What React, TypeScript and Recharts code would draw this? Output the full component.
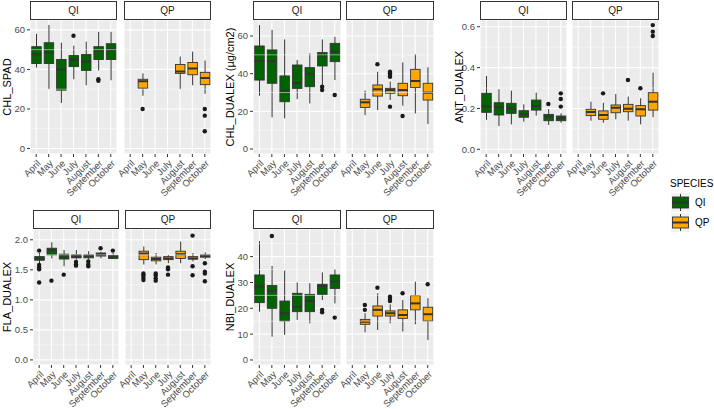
import React from 'react';
import {
  ComposedChart,
  Bar,
  Scatter,
  XAxis,
  YAxis,
  CartesianGrid,
  ReferenceLine,
} from 'recharts';

type Box = [number, number, number, number, number] | null;
type Out = [string, number][];

// box stats are [lower whisker, q1, median, q3, upper whisker]
const months = ['April', 'May', 'June', 'July', 'August', 'September', 'October'];

const chlSpadQI: Box[] = [
  [41, 43, 47.5, 51.5, 58],
  [30, 43, 48.5, 53.5, 62.5],
  [23, 29.5, 40, 45, 53.5],
  [35, 41.5, 45, 47, 52],
  [32, 39.5, 44, 47.5, 54],
  [39.5, 45, 49.5, 51.5, 59],
  [34.5, 45, 50, 53, 59],
];
const chlSpadQIOut: Out = [['July', 57], ['September', 35], ['September', 34.2]];
const chlSpadQP: Box[] = [
  null,
  [26.7, 30.5, 34, 35, 38],
  null,
  null,
  [30, 38, 39, 42.5, 46.5],
  [32, 37.3, 40.5, 43.5, 49],
  [27.7, 32.3, 35.6, 38.5, 44.5],
];
const chlSpadQPOut: Out = [['May', 20], ['October', 20], ['October', 16.6], ['October', 8.7]];

const chlDualexQI: Box[] = [
  [28.3, 36.6, 46.7, 54.7, 65.8],
  [16.8, 34.9, 46.7, 52.6, 63.2],
  [16.3, 25.1, 31, 38.8, 58.2],
  [26.5, 32.2, 35, 44.6, 47.3],
  [24.2, 33.1, 39.8, 43.2, 50.8],
  [34, 44.1, 49.6, 51.2, 58.2],
  [36.6, 46.4, 51.7, 56.1, 59.6],
];
const chlDualexQIOut: Out = [['September', 33.1], ['September', 31.3], ['October', 28.7]];
const chlDualexQP: Box[] = [
  null,
  [18, 22.1, 24.8, 26.4, 31],
  [20.7, 28.1, 31.7, 34, 41],
  [26, 29.6, 31.3, 32.2, 35.8],
  [23, 28.3, 31.3, 34.9, 46],
  [18.9, 32.7, 36.1, 42.3, 50.3],
  [13.3, 26, 29.9, 34.9, 43.4],
];
const chlDualexQPOut: Out = [
  ['June', 45], ['July', 41], ['July', 40.2], ['July', 39.3], ['July', 38.4], ['July', 22.5], ['August', 17.5],
];

const antQI: Box[] = [
  [0.144, 0.181, 0.209, 0.274, 0.359],
  [0.114, 0.168, 0.206, 0.228, 0.294],
  [0.122, 0.176, 0.2, 0.225, 0.287],
  [0.135, 0.157, 0.173, 0.189, 0.22],
  [0.165, 0.192, 0.212, 0.241, 0.277],
  [0.119, 0.14, 0.16, 0.171, 0.196],
  [0.13, 0.14, 0.152, 0.163, 0.176],
];
const antQIOut: Out = [['September', 0.222], ['October', 0.274], ['October', 0.246], ['October', 0.209]];
const antQP: Box[] = [
  null,
  [0.14, 0.165, 0.183, 0.196, 0.233],
  [0.13, 0.147, 0.168, 0.188, 0.228],
  [0.147, 0.179, 0.204, 0.217, 0.271],
  [0.14, 0.184, 0.199, 0.22, 0.258],
  [0.122, 0.163, 0.196, 0.214, 0.25],
  [0.157, 0.192, 0.233, 0.277, 0.375],
];
const antQPOut: Out = [
  ['June', 0.274], ['August', 0.339], ['September', 0.299], ['October', 0.608], ['October', 0.576], ['October', 0.555],
];

const flaQI: Box[] = [
  [1.61, 1.66, 1.69, 1.72, 1.78],
  [1.69, 1.75, 1.83, 1.86, 1.96],
  [1.56, 1.68, 1.72, 1.76, 1.83],
  [1.67, 1.7, 1.72, 1.75, 1.83],
  [1.67, 1.7, 1.73, 1.75, 1.81],
  [1.69, 1.73, 1.76, 1.78, 1.8],
  [1.68, 1.69, 1.72, 1.74, 1.78],
];
const flaQIOut: Out = [
  ['April', 1.82], ['April', 1.58], ['April', 1.54], ['April', 1.51], ['April', 1.29], ['May', 1.32], ['June', 1.42],
  ['July', 1.63], ['July', 1.59], ['July', 1.57], ['August', 1.64], ['August', 1.59], ['August', 1.56],
  ['September', 1.86], ['October', 1.82],
];
const flaQP: Box[] = [
  null,
  [1.59, 1.67, 1.77, 1.81, 1.89],
  [1.59, 1.65, 1.68, 1.71, 1.78],
  [1.61, 1.67, 1.69, 1.72, 1.75],
  [1.61, 1.69, 1.76, 1.81, 1.97],
  [1.64, 1.68, 1.69, 1.72, 1.78],
  [1.68, 1.71, 1.73, 1.75, 1.79],
];
const flaQPOut: Out = [
  ['May', 1.44], ['May', 1.41], ['May', 1.37], ['May', 1.33], ['June', 1.44], ['June', 1.41], ['June', 1.36], ['June', 1.32],
  ['July', 1.54], ['July', 1.51], ['July', 1.42], ['September', 2.07], ['September', 1.56], ['September', 1.41],
  ['October', 1.61], ['October', 1.47], ['October', 1.44], ['October', 1.31],
];

const nbiQI: Box[] = [
  [18.7, 22.2, 28.4, 32.9, 46],
  [9, 20, 26.7, 28.8, 36.4],
  [9.7, 15.1, 18.1, 22.8, 34.6],
  [15.5, 18.7, 20.6, 25.8, 30],
  [14.2, 18.7, 22.8, 25.4, 29.7],
  [23.2, 25.4, 28.6, 29.3, 33.9],
  [21.9, 27.7, 30.3, 32.9, 35.2],
];
const nbiQIOut: Out = [['May', 48], ['September', 19.4], ['September', 18.5], ['October', 16.4]];
const nbiQP: Box[] = [
  null,
  [10.7, 13.8, 14.8, 15.7, 18.1],
  [11.6, 17, 19.4, 20.9, 25.8],
  [14.2, 17, 18.1, 19, 21.5],
  [11, 16.1, 17.4, 19.4, 23.2],
  [13.8, 19.4, 21.9, 24.9, 30.3],
  [7.7, 15.1, 17.7, 20.4, 23.9],
];
const nbiQPOut: Out = [
  ['May', 21.3], ['May', 19.4], ['June', 28], ['July', 24.5], ['July', 23.6], ['July', 22.8], ['August', 25.8], ['October', 29.3],
];

const QI_FILL = '#006400';
const QP_FILL = '#FFA500';
const FONT = '"Liberation Sans", Arial, sans-serif';
const BOX_W = 9.5;
const PAD = 30; // room left of every plot area for tick labels

const BoxShape = (p: any) => {
  const b: Box = p.payload?.box;
  if (!b || !isFinite(p.y) || !isFinite(p.height)) return null;
  const top = Math.min(p.y, p.y + p.height);
  const bot = Math.max(p.y, p.y + p.height);
  const px = (v: number) => bot - ((v - b[0]) / (b[4] - b[0])) * (bot - top);
  const cx = p.x + p.width / 2;
  const x0 = cx - BOX_W / 2;
  return (
    <g>
      <line x1={cx} x2={cx} y1={px(b[4])} y2={px(b[3])} stroke="#333" strokeWidth={1} />
      <line x1={cx} x2={cx} y1={px(b[1])} y2={px(b[0])} stroke="#333" strokeWidth={1} />
      <rect x={x0} y={px(b[3])} width={BOX_W} height={px(b[1]) - px(b[3])} fill={p.boxFill} stroke="#333" strokeWidth={0.9} />
      <line x1={x0} x2={x0 + BOX_W} y1={px(b[2])} y2={px(b[2])} stroke="#333" strokeWidth={2} />
    </g>
  );
};

const MonthTick = (p: any) => {
  const x = p.x + 5;
  const y = p.y + 5;
  return (
    <text x={x} y={y} transform={`rotate(-45 ${x} ${y})`} textAnchor="end" fontSize={9.5} fill="#4D4D4D" fontFamily={FONT}>
      {p.payload.value}
    </text>
  );
};

interface PanelProps {
  stats: Box[];
  outliers: Out;
  fill: string;
  left: number;
  top: number;
  width: number;
  height: number;
  domain: [number, number];
  ticks: number[];
  minor: number[];
  showY: boolean;
  digits: number;
}

const Panel = ({ stats, outliers, fill, left, top, width, height, domain, ticks, minor, showY, digits }: PanelProps) => {
  const data = months.map((m, i) => ({
    month: m,
    box: stats[i],
    range: stats[i] ? [stats[i]![0], stats[i]![4]] : null,
  }));
  const pts = outliers.map(([m, v]) => ({ month: m, v }));
  return (
    <div style={{ position: 'absolute', left: left - PAD, top }}>
      <ComposedChart
        width={width + PAD}
        height={height + 55}
        data={data}
        margin={{ top: 0, right: 0, bottom: 0, left: showY ? 0 : PAD }}
      >
        <CartesianGrid fill="#EBEBEB" stroke="#FFFFFF" strokeWidth={1.1} />
        {minor.map((v) => (
          <ReferenceLine key={v} y={v} stroke="#FFFFFF" strokeWidth={0.5} />
        ))}
        <XAxis
          dataKey="month"
          allowDuplicatedCategory={false}
          height={55}
          axisLine={false}
          tickSize={3}
          tickLine={{ stroke: '#333' }}
          tick={<MonthTick />}
          interval={0}
        />
        <YAxis
          type="number"
          domain={domain}
          ticks={ticks}
          allowDataOverflow
          hide={!showY}
          width={PAD}
          axisLine={false}
          tickSize={3}
          tickLine={{ stroke: '#333' }}
          tick={{ fontSize: 9.5, fill: '#4D4D4D', fontFamily: FONT }}
          tickFormatter={(v: number) => v.toFixed(digits)}
          interval={0}
        />
        <Bar dataKey="range" barSize={9} isAnimationActive={false} shape={(p: any) => <BoxShape {...p} boxFill={fill} />} />
        <Scatter
          data={pts}
          dataKey="v"
          isAnimationActive={false}
          shape={(p: any) => <circle cx={p.cx} cy={p.cy} r={2.2} fill="#1A1A1A" />}
        />
      </ComposedChart>
    </div>
  );
};

interface Facet {
  title: string;
  titleX: number;
  qi: Box[];
  qiOut: Out;
  qp: Box[];
  qpOut: Out;
  lefts: [number, number];
  width: number;
  top: number;
  height: number;
  domain: [number, number];
  ticks: number[];
  minor: number[];
  digits: number;
}

const ROW1 = 20;
const ROW2 = 229;

const facets: Facet[] = [
  {
    title: 'CHL_SPAD', titleX: 7, qi: chlSpadQI, qiOut: chlSpadQIOut, qp: chlSpadQP, qpOut: chlSpadQPOut,
    lefts: [30, 124], width: 87, top: ROW1, height: 134, domain: [-2.8, 65], ticks: [0, 20, 40, 60], minor: [10, 30, 50], digits: 0,
  },
  {
    title: 'CHL_DUALEX (µg/cm2)', titleX: 230, qi: chlDualexQI, qiOut: chlDualexQIOut, qp: chlDualexQP, qpOut: chlDualexQPOut,
    lefts: [253, 346], width: 88, top: ROW1, height: 134, domain: [-2.65, 68.5], ticks: [0, 20, 40, 60], minor: [10, 30, 50], digits: 0,
  },
  {
    title: 'ANT_DUALEX', titleX: 459, qi: antQI, qiOut: antQIOut, qp: antQP, qpOut: antQPOut,
    lefts: [480, 572], width: 87, top: ROW1, height: 134, domain: [-0.023, 0.633], ticks: [0, 0.2, 0.4, 0.6], minor: [0.1, 0.3, 0.5], digits: 1,
  },
  {
    title: 'FLA_DUALEX', titleX: 7, qi: flaQI, qiOut: flaQIOut, qp: flaQP, qpOut: flaQPOut,
    lefts: [33, 125], width: 86, top: ROW2, height: 136, domain: [-0.085, 2.18], ticks: [0, 0.5, 1, 1.5, 2], minor: [0.25, 0.75, 1.25, 1.75], digits: 1,
  },
  {
    title: 'NBI_DUALEX', titleX: 230, qi: nbiQI, qiOut: nbiQIOut, qp: nbiQP, qpOut: nbiQPOut,
    lefts: [253, 346], width: 88, top: ROW2, height: 136, domain: [-1.95, 50.7], ticks: [0, 10, 20, 30, 40], minor: [5, 15, 25, 35, 45], digits: 0,
  },
];

const LegendKey = ({ y, fill }: { y: number; fill: string }) => (
  <g>
    <rect x={671} y={y} width={19} height={19} fill="#F2F2F2" />
    <line x1={680.5} x2={680.5} y1={y + 1} y2={y + 18} stroke="#333" strokeWidth={1} />
    <rect x={672.5} y={y + 4} width={16} height={11} fill={fill} stroke="#333" strokeWidth={0.9} />
    <line x1={672.5} x2={688.5} y1={y + 9.5} y2={y + 9.5} stroke="#333" strokeWidth={2} />
  </g>
);

export default function App() {
  return (
    <div style={{ position: 'absolute', left: 0, top: 0, width: 714, height: 409, background: '#FFFFFF', fontFamily: FONT }}>
      {facets.map((f) => (
        <React.Fragment key={f.title}>
          <Panel stats={f.qi} outliers={f.qiOut} fill={QI_FILL} left={f.lefts[0]} top={f.top} width={f.width} height={f.height}
            domain={f.domain} ticks={f.ticks} minor={f.minor} showY digits={f.digits} />
          <Panel stats={f.qp} outliers={f.qpOut} fill={QP_FILL} left={f.lefts[1]} top={f.top} width={f.width} height={f.height}
            domain={f.domain} ticks={f.ticks} minor={f.minor} showY={false} digits={f.digits} />
        </React.Fragment>
      ))}
      <svg width={714} height={409} style={{ position: 'absolute', left: 0, top: 0, pointerEvents: 'none' }}>
        {facets.map((f) => (
          <g key={f.title}>
            {f.lefts.map((l, i) => (
              <g key={i}>
                <rect x={l + 0.5} y={f.top - 19 + 0.5} width={f.width - 1} height={18} fill="#FFFFFF" stroke="#333" strokeWidth={1} />
                <text x={l + f.width / 2} y={f.top - 6} textAnchor="middle" fontSize={10} fill="#1A1A1A" fontFamily={FONT}>
                  {i === 0 ? 'QI' : 'QP'}
                </text>
              </g>
            ))}
            <text
              x={f.titleX}
              y={f.top + f.height / 2}
              transform={`rotate(-90 ${f.titleX} ${f.top + f.height / 2})`}
              textAnchor="middle"
              dominantBaseline="central"
              fontSize={11}
              fill="#000"
              fontFamily={FONT}
            >
              {f.title}
            </text>
          </g>
        ))}
        <text x={670} y={187} fontSize={10} fill="#000" fontFamily={FONT}>SPECIES</text>
        <LegendKey y={193} fill={QI_FILL} />
        <LegendKey y={213} fill={QP_FILL} />
        <text x={695} y={206} fontSize={10} fill="#000" fontFamily={FONT}>QI</text>
        <text x={695} y={226} fontSize={10} fill="#000" fontFamily={FONT}>QP</text>
      </svg>
    </div>
  );
}
